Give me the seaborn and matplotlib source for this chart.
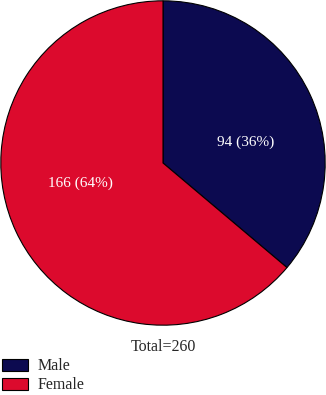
import matplotlib
matplotlib.use("Agg")
import matplotlib.pyplot as plt
import seaborn as sns

# Data
labels = ["Male", "Female"]
counts = [94, 166]
colors = ["#0c0a50", "#dc0a2d"]

sns.set_theme(style="white")
plt.rcParams["font.family"] = ["Liberation Serif", "DejaVu Serif"]

fig = plt.figure(figsize=(3.26, 3.95), dpi=100)
ax = fig.add_axes([0, 1 - 326 / 395, 1, 326 / 395])

total = sum(counts)
wedges, texts, autotexts = ax.pie(
    counts, colors=colors, startangle=90, counterclock=False,
    autopct=lambda p: f"{round(p * total / 100):d} ({p:.0f}%)",
    pctdistance=0.52, wedgeprops=dict(edgecolor="black", linewidth=0.8),
    textprops=dict(color="white", fontsize=11),
)
# nudge labels to where the reference has them
autotexts[0].set_position((0.51, 0.125))
autotexts[1].set_position((-0.51, -0.125))

ax.set_xlim(-1.005, 1.005)
ax.set_ylim(-1.005, 1.005)
ax.set_aspect("equal")

fig.text(0.5, 1 - 347 / 395, f"Total={total}", ha="center", va="center", fontsize=11.5)

fig.legend(wedges, labels, loc="lower left", bbox_to_anchor=(0.0, 0.0),
           frameon=False, fontsize=11.5, handlelength=1.65, handleheight=0.8,
           handletextpad=0.6, labelspacing=0.2, borderaxespad=0.05, borderpad=0.05)

fig.savefig("out.png", dpi=100)
